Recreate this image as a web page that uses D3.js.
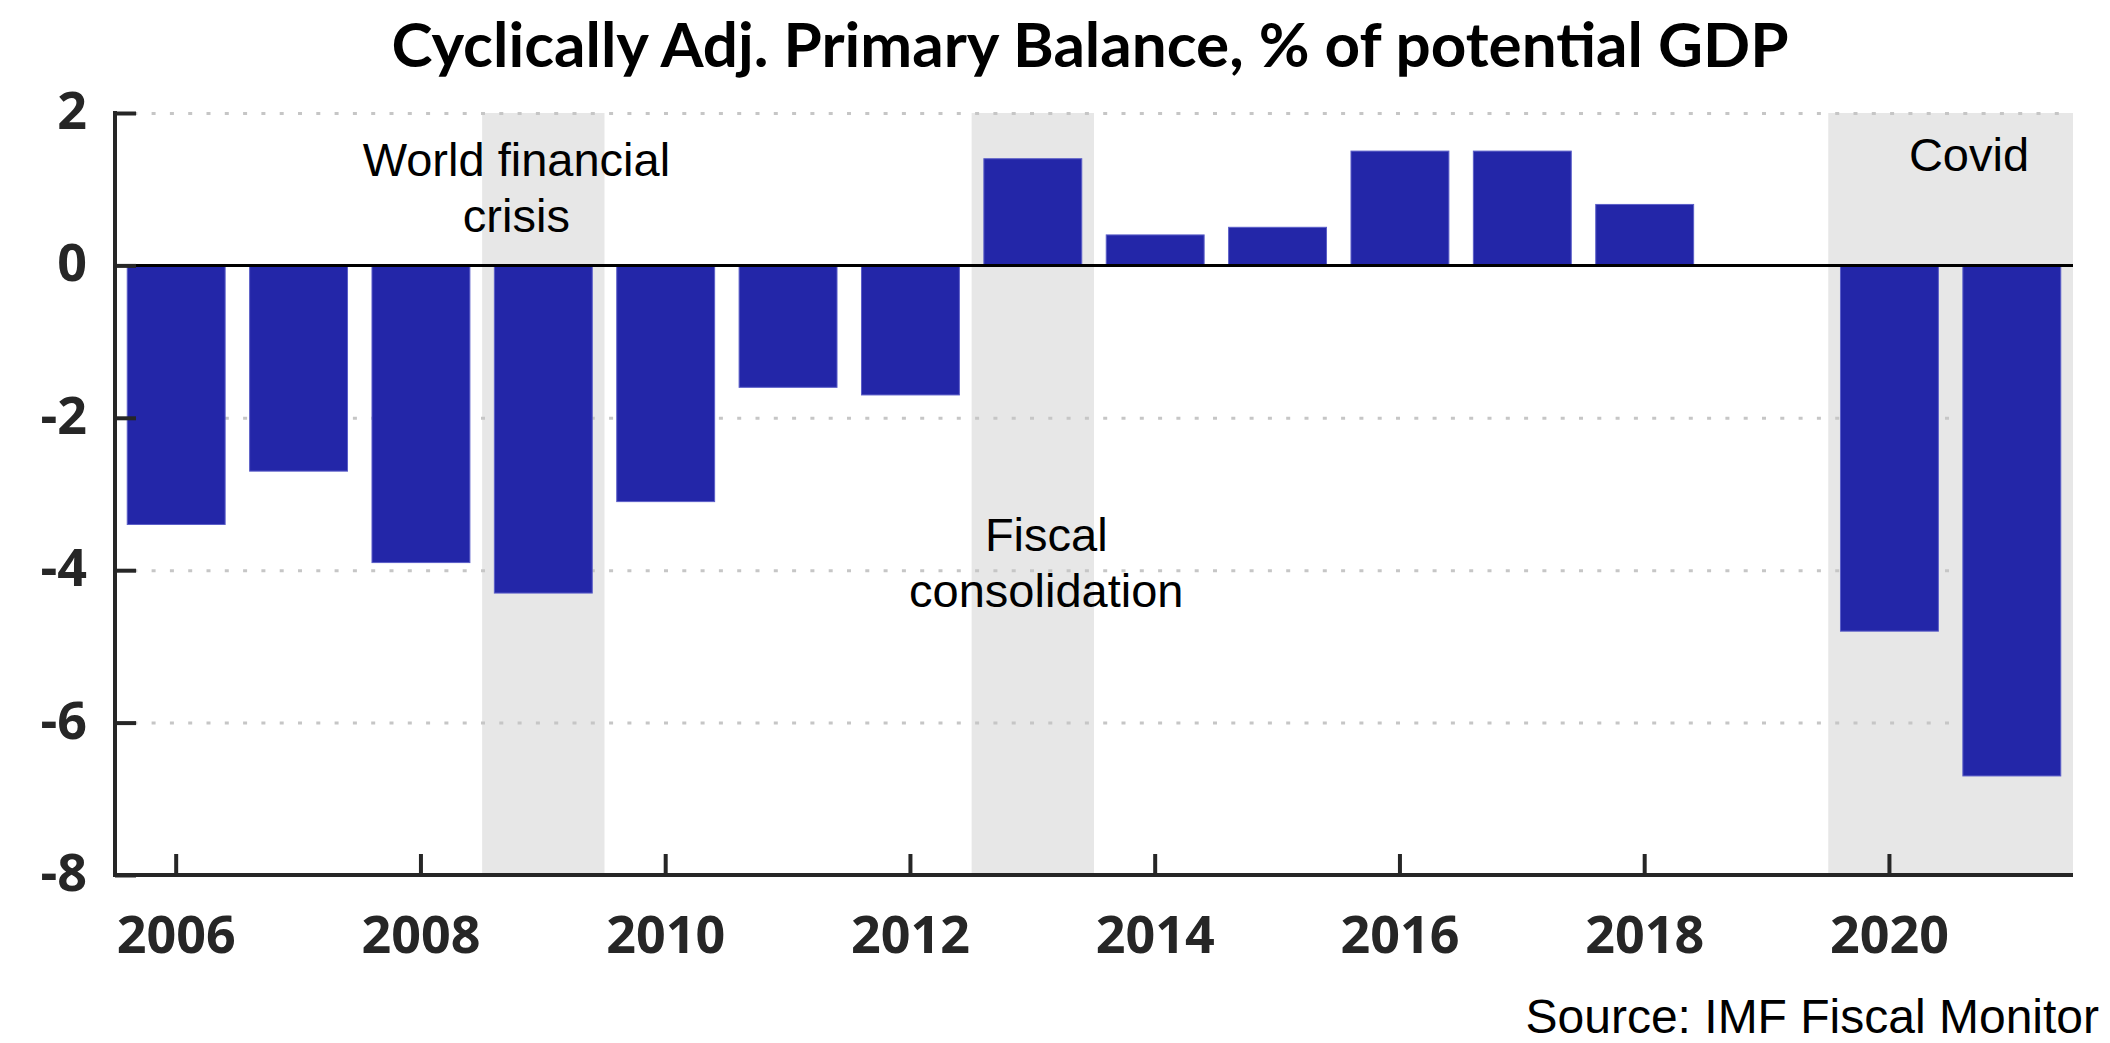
<!DOCTYPE html>
<html>
<head>
<meta charset="utf-8">
<script src="https://cdn.jsdelivr.net/npm/d3@7"></script>
<style>
  body { margin: 0; background: #fff; }
  svg { display: block; }
</style>
</head>
<body>
<svg id="chart"></svg>
<script>
// data
const years = [2006, 2007, 2008, 2009, 2010, 2011, 2012, 2013, 2014, 2015, 2016, 2017, 2018, 2019, 2020, 2021];
const balance = [-3.4, -2.7, -3.9, -4.3, -3.1, -1.6, -1.7, 1.4, 0.4, 0.5, 1.5, 1.5, 0.8, 0, -4.8, -6.7];
const yTicks = [2, 0, -2, -4, -6, -8];
const xTickYears = [2006, 2008, 2010, 2012, 2014, 2016, 2018, 2020];
const shadedPeriods = [[2009, 2009], [2013, 2013], [2020, 2021]];
const annotations = [
  { year: 2008.78, lines: ["World financial", "crisis"], value: 1.17 },
  { year: 2013.11, lines: ["Fiscal", "consolidation"], value: -3.75 },
  { year: 2020.65, lines: ["Covid"], value: 1.24 }
];

const W = 2110, H = 1043;
const svg = d3.select("svg#chart").attr("width", W).attr("height", H);

const x = d3.scaleBand().domain(years).range([115, 2073]).paddingInner(0.2).paddingOuter(0.1);
const y = d3.scaleLinear().domain([-8, 2]).range([875, 113]);
const step = x.step();
const bandLeft = yr => x.range()[0] + years.indexOf(yr) * step;
const xCenter = yr => bandLeft(yr) + step / 2;
// continuous position for labels placed between bands
const xYear = d3.scaleLinear().domain([years[0] - 0.5, years[years.length - 1] + 0.5]).range(x.range());

// shaded periods
svg.append("g").selectAll("rect").data(shadedPeriods).join("rect")
  .attr("x", d => bandLeft(d[0]))
  .attr("width", d => bandLeft(d[1]) + step - bandLeft(d[0]))
  .attr("y", y(2)).attr("height", y(-8) - y(2))
  .attr("fill", "#e7e7e7");

// dotted grid lines
svg.append("g").call(d3.axisLeft(y).tickValues(yTicks.filter(v => v !== 0 && v !== -8)).tickSize(-(2073 - 115)).tickFormat(""))
  .attr("transform", "translate(115,0)")
  .call(g => g.select(".domain").remove())
  .selectAll("line").attr("stroke", "#c6c6c6").attr("stroke-width", 3).attr("stroke-dasharray", "4,14.3");

// bars
const bw = step * 0.8;
svg.append("g").selectAll("rect").data(years).join("rect")
  .attr("x", (d) => xCenter(d) - bw / 2)
  .attr("width", bw)
  .attr("y", (d, i) => y(Math.max(0, balance[i])))
  .attr("height", (d, i) => Math.abs(y(balance[i]) - y(0)))
  .attr("fill", "#2326a8")
  .attr("stroke", "#5b5ec8").attr("stroke-width", 1);

// zero line
svg.append("line").attr("x1", 115).attr("x2", 2073).attr("y1", y(0)).attr("y2", y(0))
  .attr("stroke", "#000").attr("stroke-width", 3);

const tickFont = "'Open Sans', Lato, sans-serif";

// y axis
const yAxis = svg.append("g").attr("transform", "translate(115,0)")
  .call(d3.axisRight(y).tickValues(yTicks).tickSize(21).tickFormat(""));
yAxis.select(".domain").remove();
yAxis.selectAll("line").attr("stroke", "#262626").attr("stroke-width", 4);
svg.append("line").attr("x1", 115).attr("x2", 115).attr("y1", y(2) - 2).attr("y2", y(-8) + 2)
  .attr("stroke", "#262626").attr("stroke-width", 4);
svg.append("g").selectAll("text").data(yTicks).join("text")
  .attr("x", 87).attr("y", d => y(d) + 16)
  .attr("text-anchor", "end")
  .style("font-family", tickFont).style("font-weight", 700)
  .style("font-size", "52px").attr("fill", "#262626")
  .text(d => d);

// x axis
svg.append("line").attr("x1", 113).attr("x2", 2073).attr("y1", y(-8)).attr("y2", y(-8))
  .attr("stroke", "#262626").attr("stroke-width", 4);
svg.append("g").selectAll("line").data(xTickYears).join("line")
  .attr("x1", d => xCenter(d)).attr("x2", d => xCenter(d))
  .attr("y1", y(-8)).attr("y2", y(-8) - 21)
  .attr("stroke", "#262626").attr("stroke-width", 4);
svg.append("g").selectAll("text").data(xTickYears).join("text")
  .attr("x", d => xCenter(d)).attr("y", 953)
  .attr("text-anchor", "middle")
  .style("font-family", tickFont).style("font-weight", 700)
  .style("font-size", "52px").attr("fill", "#262626")
  .text(d => d);

// annotations
annotations.forEach(a => {
  const cx = xYear(a.year);
  const t = svg.append("text")
    .attr("text-anchor", "middle")
    .style("font-family", "'Liberation Sans', Arial, sans-serif")
    .style("font-size", "47px").attr("fill", "#000");
  a.lines.forEach((ln, i) => {
    t.append("tspan").attr("x", cx).attr("y", y(a.value) + i * 56).text(ln);
  });
});

// title
const title = svg.append("text")
  .attr("x", 1090).attr("y", 67).attr("text-anchor", "middle")
  .style("font-family", "Lato, sans-serif").style("font-weight", 700)
  .style("font-size", "62px").attr("fill", "#000")
  .text("Cyclically Adj. Primary Balance, % of potential GDP");
if (title.node().getComputedTextLength() > 1405) {
  title.attr("textLength", 1405).attr("lengthAdjust", "spacingAndGlyphs");
}

// source
svg.append("text")
  .attr("x", 2099).attr("y", 1033).attr("text-anchor", "end")
  .style("font-family", "'Liberation Sans', Arial, sans-serif")
  .style("font-size", "48px").attr("fill", "#000")
  .text("Source: IMF Fiscal Monitor");
</script>
</body>
</html>
